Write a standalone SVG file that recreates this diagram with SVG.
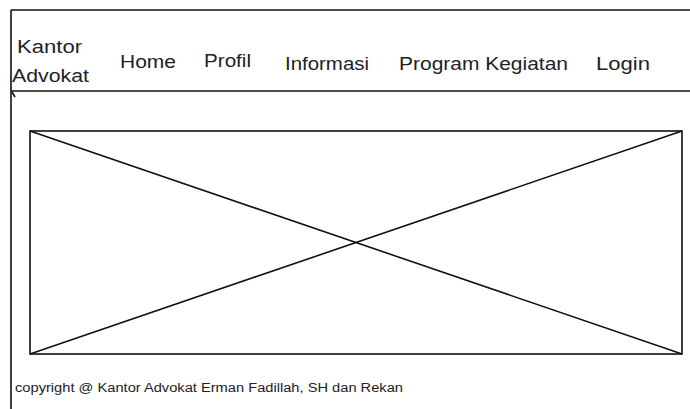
<svg xmlns="http://www.w3.org/2000/svg" width="690" height="409" viewBox="0 0 690 409">
  <style>
    .frame { fill: none; stroke: #111; stroke-width: 1.6; }
    .nav { font-family: "Liberation Sans", Arial, sans-serif; font-size: 17.5px; fill: #222; }
    .foot { font-family: "Liberation Sans", Arial, sans-serif; font-size: 12px; fill: #222; }
  </style>
  <rect width="690" height="409" fill="#fff"/>

  <!-- page frame: top edge, left edge, header divider -->
  <g id="frame">
    <line class="frame" x1="11" y1="10" x2="690" y2="10" stroke-width="2"/>
    <line class="frame" x1="11" y1="10" x2="11" y2="409"/>
    <line class="frame" x1="11" y1="91" x2="690" y2="91"/>
    <line class="frame" x1="12" y1="92" x2="15" y2="97" stroke-width="1"/>
  </g>

  <!-- header: brand and navigation -->
  <g id="brand">
    <text class="nav" x="17" y="53" textLength="65" lengthAdjust="spacingAndGlyphs">Kantor</text>
    <text class="nav" x="12" y="82" textLength="77" lengthAdjust="spacingAndGlyphs">Advokat</text>
  </g>
  <g id="nav-home"><text class="nav" x="120" y="68" textLength="56" lengthAdjust="spacingAndGlyphs">Home</text></g>
  <g id="nav-profil"><text class="nav" x="204" y="67" textLength="47" lengthAdjust="spacingAndGlyphs">Profil</text></g>
  <g id="nav-informasi"><text class="nav" x="285" y="70" textLength="84" lengthAdjust="spacingAndGlyphs">Informasi</text></g>
  <g id="nav-program"><text class="nav" x="399" y="70" textLength="169" lengthAdjust="spacingAndGlyphs">Program Kegiatan</text></g>
  <g id="nav-login"><text class="nav" x="596" y="70" textLength="54" lengthAdjust="spacingAndGlyphs">Login</text></g>

  <!-- image placeholder -->
  <g id="image-placeholder">
    <rect class="frame" x="30" y="131" width="652" height="223"/>
    <line class="frame" x1="30" y1="131" x2="682" y2="354"/>
    <line class="frame" x1="682" y1="131" x2="30" y2="354"/>
  </g>

  <!-- footer -->
  <g id="footer">
    <text class="foot" x="15" y="392" textLength="388" lengthAdjust="spacingAndGlyphs">copyright @ Kantor Advokat Erman Fadillah, SH dan Rekan</text>
  </g>
</svg>
